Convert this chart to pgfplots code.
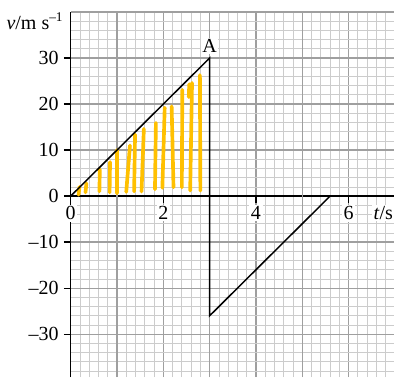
\documentclass[border=0pt,12pt]{standalone}
\usepackage{fontspec}
\setmainfont{Liberation Serif}
\usepackage{pgfplots}
\pgfplotsset{compat=1.18}
\definecolor{hatch}{RGB}{255,192,0}
\begin{document}
\begin{tikzpicture}
\begin{axis}[name=ax, scale only axis, width=194pt, height=219pt,
  xmin=0, xmax=6.98, ymin=-39.3, ymax=40,
  axis lines=middle, axis line style={-, black, line width=0.9pt},
  hide obscured x ticks=false, hide obscured y ticks=false,
  /pgf/number format/assume math mode=true,
  xtick={0,2,4,6}, ytick={-30,-20,...,30},
  yticklabels={--30,--20,--10,0,10,20,30},
  extra x ticks={1,3,5}, extra x tick labels={},
  extra y ticks={40}, extra y tick labels={},
  extra x tick style={grid=major, major tick length=0pt, xticklabel style={fill=none}},
  extra y tick style={grid=major, major tick length=0pt, yticklabel style={fill=none}},
  minor xtick={0,0.2,...,7}, minor ytick={-40,-38,...,40},
  minor tick length=0pt,
  tick align=outside, major tick length=4pt,
  tick style={black, line width=0.8pt},
  grid=both,
  major grid style={gray!75, line width=0.8pt},
  minor grid style={gray!40, line width=0.45pt},
  xticklabel style={fill=white, inner sep=1pt, yshift=-1pt},
  yticklabel style={fill=white, inner sep=1pt, xshift=-2pt},
  xlabel={\textit{t}/s},
  every axis x label/.style={at={(axis cs:6.75,0)}, anchor=north, yshift=-5pt, fill=white, inner sep=1pt},
  ylabel={\textit{v}/m s\textsuperscript{--1}},
  every axis y label/.style={at={(axis cs:-0.77,38)}, anchor=center},
]
\addplot[hatch, line width=2.2pt, line cap=round, unbounded coords=jump] coordinates {
 (0.17,0.3)(0.19,2.0) (0.18,nan)
 (0.32,0.8)(0.34,2.8) (0.33,nan)
 (0.62,1.0)(0.63,5.8) (0.62,nan)
 (0.84,0.8)(0.85,7.4) (0.84,nan)
 (1.0,0.6)(1.0,10.0) (1.0,nan)
 (1.20,0.9)(1.28,11.0) (1.2,nan)
 (1.37,1.0)(1.39,13.4) (1.37,nan)
 (1.53,1.0)(1.58,14.6) (1.53,nan)
 (1.82,1.5)(1.84,15.9) (1.82,nan)
 (1.98,1.8)(2.03,19.2) (1.98,nan)
 (2.22,1.9)(2.18,19.5) (2.2,nan)
 (2.40,1.9)(2.41,23.1) (2.4,nan)
 (2.55,21.5)(2.56,24.3) (2.55,nan)
 (2.58,1.2)(2.62,24.6) (2.6,nan)
 (2.80,1.2)(2.79,26.3)
};
\addplot[black, line width=0.9pt] coordinates {(0,0)(3,30)(3,-26)(5.6,0)};
\node[anchor=south, inner sep=0.8pt, fill=white] at (axis cs:3,30.8) {A};
\end{axis}
\pgfresetboundingbox
\path ([xshift=-42.4pt]ax.south west) rectangle ([yshift=7.2pt]ax.north east);
\end{tikzpicture}
\end{document}
